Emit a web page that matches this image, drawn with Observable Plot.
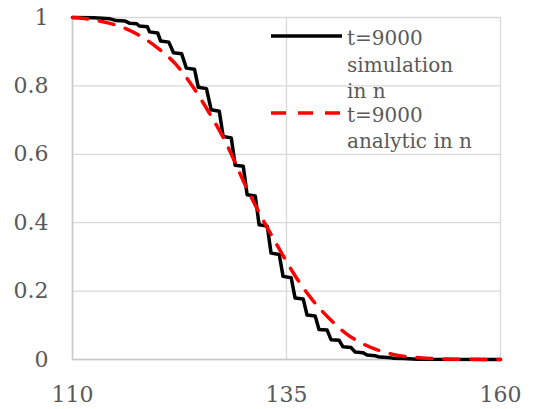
<!DOCTYPE html>
<html>
<head>
<meta charset="utf-8">
<script src="https://cdn.jsdelivr.net/npm/d3@7"></script>
<script src="https://cdn.jsdelivr.net/npm/@observablehq/plot@0.6"></script>
<style>
  html, body { margin: 0; padding: 0; background: white; }
  #wrap { position: relative; width: 534px; height: 409px; overflow: hidden; }
  .leg { position: absolute; font-family: "DejaVu Serif", serif; font-size: 20px; line-height: 26.7px; color: #595959; white-space: nowrap; }
  .sw { position: absolute; }
</style>
</head>
<body>
<div id="wrap"></div>
<script>
// Simulation (t=9000): staircase plateau start/end points
const simN = [110,112.5,114.4,115.1,116.1,116.7,117.5,117.8,118.75,119.0,119.95,120.3,121.25,121.8,122.75,123.3,124.25,124.7,125.65,126.2,127.15,127.6,128.55,129.0,129.95,130.4,131.35,131.8,132.75,133.2,134.15,134.6,135.55,136.0,136.95,137.4,138.35,138.8,139.75,140.2,141.15,141.6,142.55,143.0,143.95,144.4,145.35,145.9,146.85,147.4,148.7,150.3,160];
const simV = [1.0,0.999,0.996,0.991,0.990,0.983,0.982,0.975,0.973,0.958,0.955,0.931,0.928,0.897,0.894,0.852,0.849,0.796,0.792,0.730,0.726,0.652,0.648,0.568,0.565,0.482,0.478,0.394,0.390,0.311,0.307,0.243,0.239,0.180,0.177,0.130,0.127,0.088,0.086,0.058,0.056,0.037,0.035,0.022,0.020,0.013,0.011,0.007,0.006,0.004,0.003,0.001,0.0];

// Analytic (t=9000)
const anaN = [110,112,114,116,118,120,122,124,126,128,130,132,134,136,138,140,142,144,146,148,150,152,155,160];
const anaV = [1.000,0.995,0.985,0.970,0.945,0.910,0.865,0.800,0.720,0.630,0.520,0.420,0.330,0.245,0.175,0.120,0.075,0.045,0.025,0.012,0.006,0.003,0.001,0.000];

const xTicks = [110, 135, 160];
const yTicks = [0, 0.2, 0.4, 0.6, 0.8, 1];
const seriesNames = ["t=9000\nsimulation\nin n", "t=9000\nanalytic in n"];

const sim = simN.map((n, i) => ({n, v: simV[i]}));
const ana = anaN.map((n, i) => ({n, v: anaV[i]}));

const gridStyle = {stroke: "#d9d9d9", strokeOpacity: 1, strokeWidth: 1.3};
const axisLineStyle = {stroke: "#c9c9c9", strokeOpacity: 1, strokeWidth: 1.6};

const chart = Plot.plot({
  width: 534,
  height: 409,
  marginLeft: 72,
  marginRight: 34,
  marginTop: 17,
  marginBottom: 50,
  style: {fontFamily: "'DejaVu Serif', serif", fontSize: "22px", color: "#595959", background: "white", overflow: "visible"},
  x: {domain: [110, 160], label: null},
  y: {domain: [0, 1], label: null},
  marks: [
    Plot.gridX(xTicks, gridStyle),
    Plot.gridY(yTicks, gridStyle),
    Plot.ruleX([110], axisLineStyle),
    Plot.ruleY([0], axisLineStyle),
    Plot.axisX(xTicks, {tickSize: 0, tickPadding: 27, label: null, fill: "#595959"}),
    Plot.axisY(yTicks, {tickSize: 0, tickPadding: 24, label: null, fill: "#595959", tickFormat: d => String(d)}),
    Plot.line(sim, {x: "n", y: "v", stroke: "#000000", strokeWidth: 3.5, strokeLinejoin: "round", strokeLinecap: "round"}),
    Plot.line(ana, {x: "n", y: "v", stroke: "#ff0000", strokeWidth: 3.5, strokeDasharray: "15,12", curve: "monotone-x"})
  ]
});

const wrap = document.getElementById("wrap");
wrap.appendChild(chart);

function legendEntry(top, lineY, dash, color, text) {
  const svgNS = "http://www.w3.org/2000/svg";
  const s = document.createElementNS(svgNS, "svg");
  s.setAttribute("class", "sw");
  s.setAttribute("width", "72");
  s.setAttribute("height", "8");
  s.style.left = "271px";
  s.style.top = (lineY - 4) + "px";
  const l = document.createElementNS(svgNS, "line");
  l.setAttribute("x1", "0"); l.setAttribute("x2", "71");
  l.setAttribute("y1", "4"); l.setAttribute("y2", "4");
  l.setAttribute("stroke", color);
  l.setAttribute("stroke-width", "3.5");
  if (dash) l.setAttribute("stroke-dasharray", dash);
  s.appendChild(l);
  wrap.appendChild(s);
  const d = document.createElement("div");
  d.className = "leg";
  d.style.left = "347px";
  d.style.top = top + "px";
  d.innerHTML = text.split("\n").join("<br>");
  wrap.appendChild(d);
}
legendEntry(25, 36, null, "#000000", seriesNames[0]);
legendEntry(101.5, 113, "15,12", "#ff0000", seriesNames[1]);
</script>
</body>
</html>
